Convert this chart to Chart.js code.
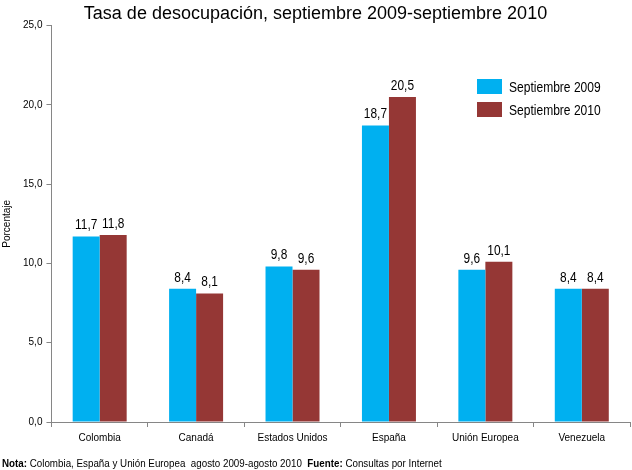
<!DOCTYPE html>
<html>
<head>
<meta charset="utf-8">
<script src="https://cdn.jsdelivr.net/npm/chart.js@4/dist/chart.umd.min.js"></script>
<style>
  body { margin: 0; background: #fff; }
  #wrap { position: relative; width: 632px; height: 470px; }
  #nota {
    position: absolute; left: 2px; top: 457px;
    font-family: 'Liberation Sans Narrow', 'Arial Narrow', 'Liberation Sans', sans-serif;
    font-size: 11px; color: #000; white-space: nowrap;
    transform: scaleX(0.89); transform-origin: left top;
  }
  #legend {
    position: absolute; left: 477px; top: 75px;
    font-family: 'Liberation Sans Narrow', 'Arial Narrow', 'Liberation Sans', sans-serif;
    font-size: 14px; color: #000;
  }
  #legend div { height: 23px; display: flex; align-items: center; }
  #legend span.box { display: inline-block; width: 25px; height: 15px; margin-right: 7px; }
  #legend span.txt { display: inline-block; transform: scaleX(0.86); transform-origin: left center; }
</style>
</head>
<body>
<div id="wrap">
  <canvas id="chart" width="632" height="470"></canvas>
  <div id="legend"></div>
  <div id="nota"><b>Nota:</b> Colombia, España y Unión Europea &nbsp;agosto 2009-agosto 2010 &nbsp;<b>Fuente:</b> Consultas por Internet</div>
</div>
<script>
const categories = ['Colombia', 'Canadá', 'Estados Unidos', 'España', 'Unión Europea', 'Venezuela'];
const sept2009 = [11.7, 8.4, 9.8, 18.7, 9.6, 8.4];
const sept2010 = [11.8, 8.1, 9.6, 20.5, 10.1, 8.4];
const seriesNames = ['Septiembre 2009', 'Septiembre 2010'];
const seriesColors = ['#00B0F0', '#953735'];
const yTicks = [0, 5, 10, 15, 20, 25];

const fontFamily = "'Liberation Sans Narrow', 'Arial Narrow', 'Liberation Sans', sans-serif";
const fmt = v => v.toFixed(1).replace('.', ',');

// value labels above bars, squeezed a bit to look like a narrow font
const valueLabels = {
  id: 'valueLabels',
  afterDatasetsDraw(chart) {
    const ctx = chart.ctx;
    chart.data.datasets.forEach((ds, i) => {
      chart.getDatasetMeta(i).data.forEach((bar, j) => {
        ctx.save();
        ctx.font = '14px ' + fontFamily;
        ctx.fillStyle = '#000';
        ctx.textAlign = 'center';
        ctx.textBaseline = 'bottom';
        ctx.translate(bar.x, bar.y - 4);
        ctx.scale(0.85, 1);
        ctx.fillText(fmt(ds.data[j]), 0, 0);
        ctx.restore();
      });
    });
  }
};

const legend = document.getElementById('legend');
seriesNames.forEach((name, i) => {
  const row = document.createElement('div');
  row.innerHTML = '<span class="box" style="background:' + seriesColors[i] + '"></span><span class="txt">' + name + '</span>';
  legend.appendChild(row);
});

new Chart(document.getElementById('chart'), {
  type: 'bar',
  data: {
    labels: categories,
    datasets: [
      { label: seriesNames[0], data: sept2009, backgroundColor: seriesColors[0] },
      { label: seriesNames[1], data: sept2010, backgroundColor: seriesColors[1] }
    ]
  },
  options: {
    responsive: false,
    animation: false,
    layout: { padding: { left: 1, right: 2, top: 0, bottom: 21 } },
    datasets: { bar: { categoryPercentage: 0.56, barPercentage: 1.0 } },
    plugins: {
      legend: { display: false },
      tooltip: { enabled: false },
      title: {
        display: true,
        text: 'Tasa de desocupación, septiembre 2009-septiembre 2010',
        color: '#000',
        font: { family: fontFamily, size: 18, weight: 'normal' },
        padding: { top: 3, bottom: 1 }
      }
    },
    scales: {
      x: {
        grid: { display: true, drawOnChartArea: false, offset: true, tickLength: 5, color: '#868686' },
        border: { color: '#868686' },
        ticks: { color: '#000', font: { family: fontFamily, size: 10 }, padding: 5 }
      },
      y: {
        min: 0,
        max: 25,
        afterBuildTicks: axis => { axis.ticks = yTicks.map(v => ({ value: v })); },
        grid: { display: true, drawOnChartArea: false, tickLength: 5, color: '#868686' },
        border: { color: '#868686' },
        ticks: { color: '#000', font: { family: fontFamily, size: 10 }, padding: 4, callback: v => fmt(v) },
        title: {
          display: true,
          text: 'Porcentaje',
          color: '#000',
          font: { family: fontFamily, size: 10 },
          padding: { top: 0, bottom: 6 }
        }
      }
    }
  },
  plugins: [valueLabels]
});
</script>
</body>
</html>
